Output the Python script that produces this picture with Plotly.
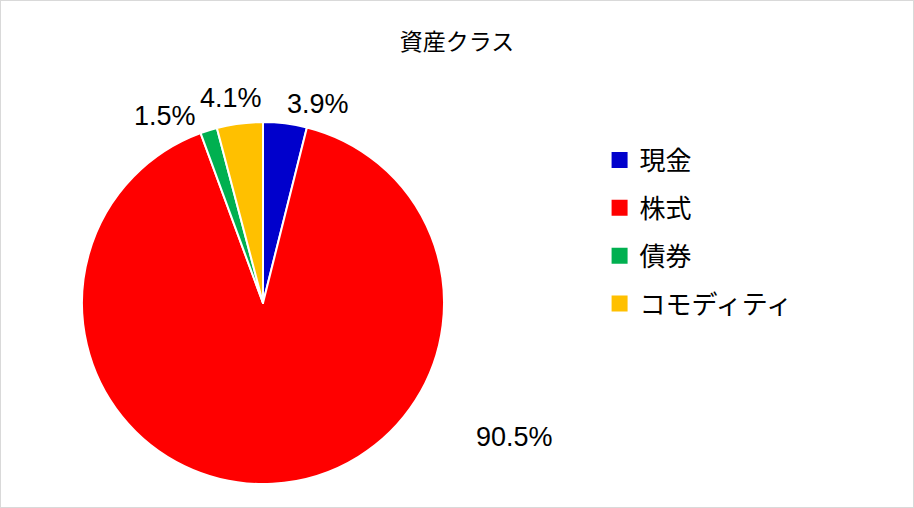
import plotly.graph_objects as go

# 資産クラス allocation (percent)
labels = ["現金", "株式", "債券", "コモディティ"]
values = [3.9, 90.5, 1.5, 4.1]
colors = ["#0000CC", "#FF0000", "#00B050", "#FFC000"]

# where the % labels sit, in paper coords (Excel "best fit" style)
label_pos = [(0.348, 0.795), (0.563, 0.140), (0.180, 0.771), (0.253, 0.807)]

W, H = 914, 508
cx, cy, r = 263, 303, 181

fig = go.Figure(go.Pie(
    labels=labels,
    values=values,
    sort=False,
    direction="clockwise",
    rotation=0,
    textinfo="none",
    hoverinfo="label+percent",
    showlegend=False,
    marker=dict(colors=colors, line=dict(color="white", width=2)),
    domain=dict(x=[(cx - r) / W, (cx + r) / W], y=[(H - cy - r) / H, (H - cy + r) / H]),
))

# legend entries as empty square-marker traces so the row gap can be set
for lab, col in zip(labels, colors):
    fig.add_trace(go.Scatter(x=[None], y=[None], mode="markers", name=lab, legendgroup=lab,
                             marker=dict(symbol="square", size=16, color=col)))

for v, (x, y) in zip(values, label_pos):
    fig.add_annotation(x=x, y=y, xref="paper", yref="paper", text=f"{v:.1f}%",
                       showarrow=False, xanchor="center", yanchor="middle",
                       font=dict(family="Liberation Sans, Arial", size=27, color="black"))

fig.update_layout(
    width=W, height=H,
    margin=dict(l=0, r=0, t=0, b=0),
    paper_bgcolor="white",
    plot_bgcolor="white",
    xaxis=dict(visible=False),
    yaxis=dict(visible=False),
    title=dict(text="資産クラス", x=0.5, xanchor="center", y=0.917, yanchor="middle",
               font=dict(family="Noto Sans CJK JP", size=23, color="black")),
    legend=dict(x=0.656, y=0.731, xanchor="left", yanchor="top",
                font=dict(family="Noto Sans CJK JP", size=26, color="black"),
                tracegroupgap=11, itemclick=False),
    shapes=[dict(type="rect", xref="paper", yref="paper", x0=0, y0=0, x1=1, y1=1,
                 line=dict(color="#D9D9D9", width=2))],
)

# drop the page's default body margin so the figure fills the window
fig.write_html("out.html", config={"displayModeBar": False},
               post_script="document.body.style.margin='0px';")
